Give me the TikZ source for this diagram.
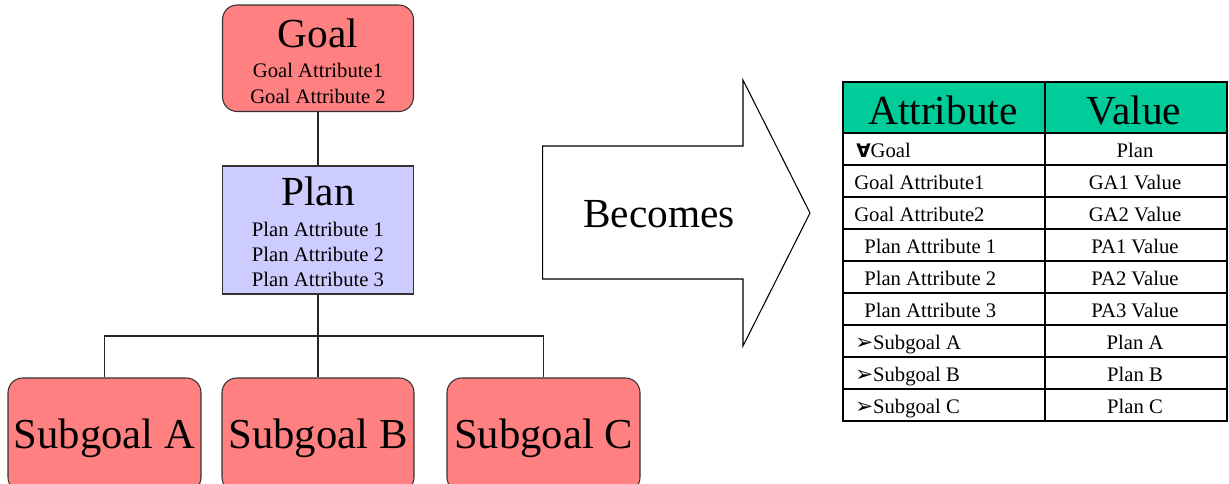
\documentclass[tikz,border=0pt]{standalone}
\usepackage{fontspec}
\setmainfont{Liberation Serif}
\newfontfamily\symfont{DejaVu Sans}
\usetikzlibrary{fit}
\definecolor{goalred}{RGB}{255,128,128}
\definecolor{planblue}{RGB}{204,204,255}
\definecolor{hdrgreen}{RGB}{0,204,153}
\tikzset{
  box/.style={draw=black!80, line width=0.8pt, inner sep=0pt},
  goalbox/.style={box, fill=goalred, rounded corners=11pt},
  planbox/.style={box, fill=planblue},
  conn/.style={draw=black!85, line width=0.8pt},
  title/.style={anchor=base, inner sep=0pt, font=\fontsize{31}{36}\selectfont},
  subtitle/.style={anchor=base, inner sep=0pt, font=\fontsize{32}{38}\selectfont},
  small/.style={anchor=base, inner sep=0pt, font=\fontsize{15.5}{18}\selectfont},
  cellL/.style={small, anchor=base west}
}
\newcommand\chkmark{{\symfont\bfseries\fontsize{14}{14}\selectfont ∀}}
\newcommand\arrmark{{\symfont\fontsize{16}{16}\selectfont ➢}}
\begin{document}
\begin{tikzpicture}[x=0.75pt, y=-0.75pt]
\useasboundingbox (0,0) rectangle (1229,483);
\clip (0,0) rectangle (1229,483);
% boxes
\node[goalbox, fit={(222.5,5) (413.5,111.5)}] (goal) {};
\node[planbox, fit={(222.5,166) (413.5,294)}] (plan) {};
\node[goalbox, fit={(8,378) (201,492)}] (subA) {};
\node[goalbox, fit={(222,378) (414,492)}] (subB) {};
\node[goalbox, fit={(447,378) (640,492)}] (subC) {};
% texts
\node[title] (goalT) at (318,47) {Goal};
\node[small] (ga1) at (318,77.5) {Goal Attribute1};
\node[small] (ga2) at (318,103) {Goal Attribute 2};
\node[title] (planT) at (318,205) {Plan};
\node[small] (pa1) at (318,236) {Plan Attribute 1};
\node[small] (pa2) at (318,261.5) {Plan Attribute 2};
\node[small] (pa3) at (318,286.5) {Plan Attribute 3};
\node[subtitle] (subAT) at (104.5,448) {Subgoal A};
\node[subtitle] (subBT) at (318,448) {Subgoal B};
\node[subtitle] (subCT) at (543.5,448) {Subgoal C};
% connectors
\coordinate (j) at (318,336);
\draw[conn] (goal.south) -- (plan.north);
\draw[conn] (plan.south) -- (subB.north);
\draw[conn] (subA.north) |- (j) -| (subC.north);
% big arrow
\draw[line width=0.8pt, fill=white] (542.7,146) -- (743,146) -- (743,80) -- (810,213) -- (743,346) -- (743,279) -- (542.7,279) -- cycle;
\node[anchor=base, inner sep=0pt, font=\fontsize{31}{36}\selectfont] (becomes) at (659,227) {Becomes};
% table
\fill[hdrgreen] (843,82) rectangle (1226.5,132.5);
\foreach \k in {0,...,8} {\draw[black, line width=1.5pt] (843,132.5+32*\k) -- (1226.5,132.5+32*\k);}
\draw[black, line width=1.5pt] (1045,82) -- (1045,420.5);
\draw[black, line width=1.5pt] (843,82) rectangle (1226.5,420.5);
\node[title] (hA) at (943,124.3) {Attribute};
\node[title] (hV) at (1134,124.3) {Value};
% column 1
\node[cellL] (r0a) at (856,157.5) {\chkmark Goal};
\node[cellL] (r1a) at (854,189.5) {Goal Attribute1};
\node[cellL] (r2a) at (854,221.5) {Goal Attribute2};
\node[cellL] (r3a) at (864,253.5) {Plan Attribute 1};
\node[cellL] (r4a) at (864,285.5) {Plan Attribute 2};
\node[cellL] (r5a) at (864,317.5) {Plan Attribute 3};
\node[cellL] (r6a) at (855,349.5) {\arrmark Subgoal A};
\node[cellL] (r7a) at (855,381.5) {\arrmark Subgoal B};
\node[cellL] (r8a) at (855,413.5) {\arrmark Subgoal C};
% column 2
\node[small] (r0b) at (1135,157.5) {Plan};
\node[small] (r1b) at (1135,189.5) {GA1 Value};
\node[small] (r2b) at (1135,221.5) {GA2 Value};
\node[small] (r3b) at (1135,253.5) {PA1 Value};
\node[small] (r4b) at (1135,285.5) {PA2 Value};
\node[small] (r5b) at (1135,317.5) {PA3 Value};
\node[small] (r6b) at (1135,349.5) {Plan A};
\node[small] (r7b) at (1135,381.5) {Plan B};
\node[small] (r8b) at (1135,413.5) {Plan C};
\end{tikzpicture}
\end{document}
